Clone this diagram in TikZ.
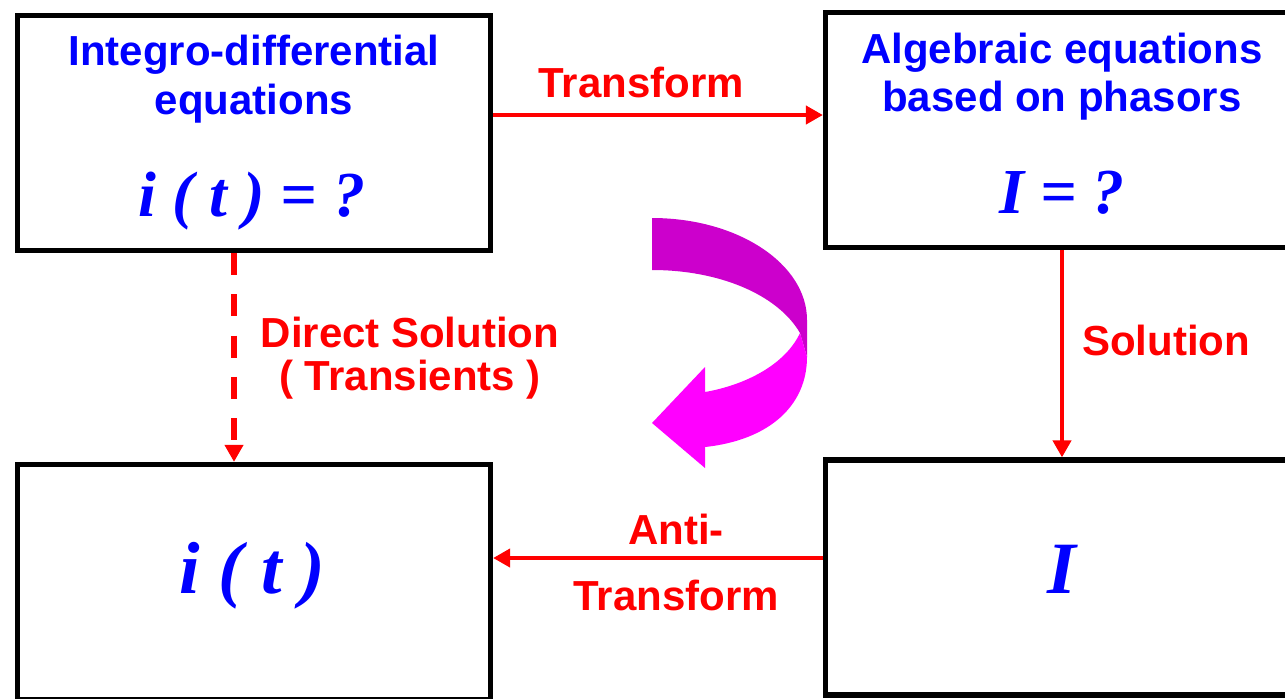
\documentclass[tikz,border=0pt]{standalone}
\usepackage{fontspec}
\setmainfont{Liberation Sans}
\newfontfamily\serifmath{Liberation Serif}
\usetikzlibrary{arrows.meta}
\definecolor{labelred}{HTML}{FF0000}
\definecolor{textblue}{HTML}{0000FF}
\definecolor{ribbonback}{HTML}{CC00CC}
\definecolor{ribbonfront}{HTML}{FF00FF}

\begin{document}
\begin{tikzpicture}[
  x=0.02cm, y=-0.02cm,
  box/.style={draw, line width=3pt, inner sep=0pt, minimum width=9.46cm,
              minimum height=4.7cm},
  title/.style={text=textblue, align=center,
                font=\bfseries\fontsize{23.9}{27.5}\selectfont},
  eq/.style={text=textblue, anchor=base,
             font=\serifmath\bfseries\itshape\fontsize{36.5}{40}\selectfont},
  bigeq/.style={eq, font=\serifmath\bfseries\itshape\fontsize{42}{46}\selectfont},
  lab/.style={text=labelred, align=center,
              font=\bfseries\fontsize{23.9}{24.5}\selectfont},
  arr/.style={-{Triangle[length=9.7pt,width=10.2pt]}, line width=2.7pt, labelred},
  dasharr/.style={arr, line width=3pt, dash pattern=on 12.5pt off 11pt}
]
  \clip (0,0) rectangle (1285,698);

  % the four boxes
  \node[box] (integro) at (254,133) {};
  \node[box] (algebraic) at (1062,130) {};
  \node[box] (timesol) at (254,582) {};
  \node[box] (phasorsol) at (1062,577.5) {};

  % box contents
  \node[title] (integrotxt) at (254,79) {Integro-differential\\equations};
  \node[title] (algebraictxt) at (1062,76.6) {Algebraic equations\\based on phasors};
  \node[eq] (itq) at (252,216) {i ( t ) = ?};
  \node[eq] (Iq) at (1062,213) {I = ?};
  \node[bigeq] (it) at (252,593) {i ( t )};
  \node[bigeq] (I) at (1062,593) {I};

  % connectors
  \coordinate (tfrom) at ([yshift=0.36cm]integro.east);
  \draw[arr] (tfrom) -- (tfrom -| algebraic.west);
  \coordinate (dfrom) at ([xshift=-0.4cm]integro.south);
  \draw[dasharr] (dfrom) -- (dfrom |- timesol.north);
  \draw[arr] (algebraic.south) -- (phasorsol.north);
  \coordinate (afrom) at ([yshift=0.39cm]phasorsol.west);
  \draw[arr] (afrom) -- (afrom -| timesol.east);

  % labels
  \node[lab, anchor=base] (transformlbl) at (641,97) {Transform};
  \node[lab] (directlbl) at (410,358) {Direct Solution\\( Transients )};
  \node[lab, anchor=base] (solutionlbl) at (1166,355) {Solution};
  \node[lab] (antilbl) at (676,562.5) {Anti-\\[13pt]Transform};

  % curved ribbon arrow
  \fill[ribbonback] (652,218) .. controls (738,218) and (807,264) .. (807,320)
    -- (807,357) -- (800,333) .. controls (778,295) and (720,270) .. (652,270) -- cycle;
  \fill[ribbonfront] (800,333) -- (807,357) .. controls (807,405) and (770,440) .. (705,447)
    -- (705,468) -- (652,423) -- (705,367) -- (705,392)
    .. controls (745,385) and (785,365) .. (800,333) -- cycle;
\end{tikzpicture}
\end{document}
